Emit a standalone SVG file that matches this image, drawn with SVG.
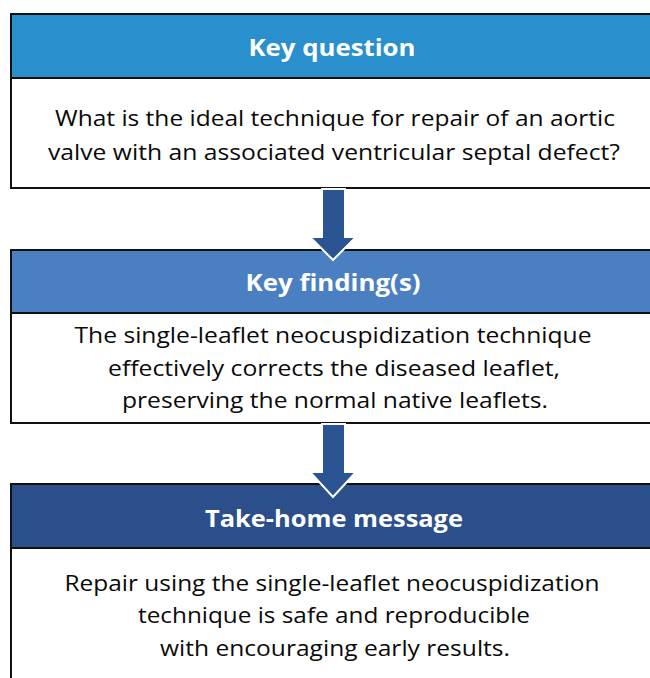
<svg xmlns="http://www.w3.org/2000/svg" width="650" height="678" viewBox="0 0 650 678">
  <style>
    .body { fill: #ffffff; stroke: #111111; stroke-width: 2; }
    .hdr { stroke: #111111; stroke-width: 2; }
    .htxt { font-family: "Open Sans", "Liberation Sans", sans-serif; font-weight: 700; font-size: 23px; fill: #ffffff; text-anchor: middle; }
    .btxt { font-family: "Open Sans", "Liberation Sans", sans-serif; font-size: 22px; fill: #0a0a0a; text-anchor: middle; }
    .arrow { fill: #2b5592; stroke: #ffffff; stroke-width: 2; stroke-linejoin: miter; }
  </style>
  <rect width="650" height="678" fill="#ffffff"/>

  <g id="node-key-question">
    <rect class="body" x="11" y="14" width="660" height="174"/>
    <rect class="hdr" x="11" y="14" width="660" height="64" fill="#2a8fcd"/>
    <text class="htxt" x="332" y="56" textLength="167" lengthAdjust="spacingAndGlyphs">Key question</text>
    <text class="btxt" x="335" y="126" textLength="560" lengthAdjust="spacingAndGlyphs">What is the ideal technique for repair of an aortic</text>
    <text class="btxt" x="334" y="160" textLength="572" lengthAdjust="spacingAndGlyphs">valve with an associated ventricular septal defect?</text>
  </g>

  <g id="node-key-findings">
    <rect class="body" x="11" y="250" width="660" height="173"/>
    <rect class="hdr" x="11" y="250" width="660" height="63" fill="#4a80c2"/>
    <text class="htxt" x="333" y="291" textLength="175" lengthAdjust="spacingAndGlyphs">Key finding(s)</text>
    <text class="btxt" x="333" y="343" textLength="517" lengthAdjust="spacingAndGlyphs">The single-leaflet neocuspidization technique</text>
    <text class="btxt" x="334" y="376" textLength="452" lengthAdjust="spacingAndGlyphs">effectively corrects the diseased leaflet,</text>
    <text class="btxt" x="335" y="408" textLength="426" lengthAdjust="spacingAndGlyphs">preserving the normal native leaflets.</text>
  </g>

  <g id="node-take-home">
    <rect class="body" x="11" y="484" width="660" height="220"/>
    <rect class="hdr" x="11" y="484" width="660" height="64" fill="#2b4f8b"/>
    <text class="htxt" x="334" y="527" textLength="258" lengthAdjust="spacingAndGlyphs">Take-home message</text>
    <text class="btxt" x="332" y="591" textLength="535" lengthAdjust="spacingAndGlyphs">Repair using the single-leaflet neocuspidization</text>
    <text class="btxt" x="334" y="623" textLength="392" lengthAdjust="spacingAndGlyphs">technique is safe and reproducible</text>
    <text class="btxt" x="335" y="656" textLength="350" lengthAdjust="spacingAndGlyphs">with encouraging early results.</text>
  </g>

  <g id="connectors">
    <path class="arrow" d="M322,189 L345,189 L345,237 L356,237 L333,260 L310,237 L322,237 Z"/>
    <path class="arrow" d="M322,424 L345,424 L345,472 L356,472 L333,497 L310,472 L322,472 Z"/>
  </g>
</svg>
